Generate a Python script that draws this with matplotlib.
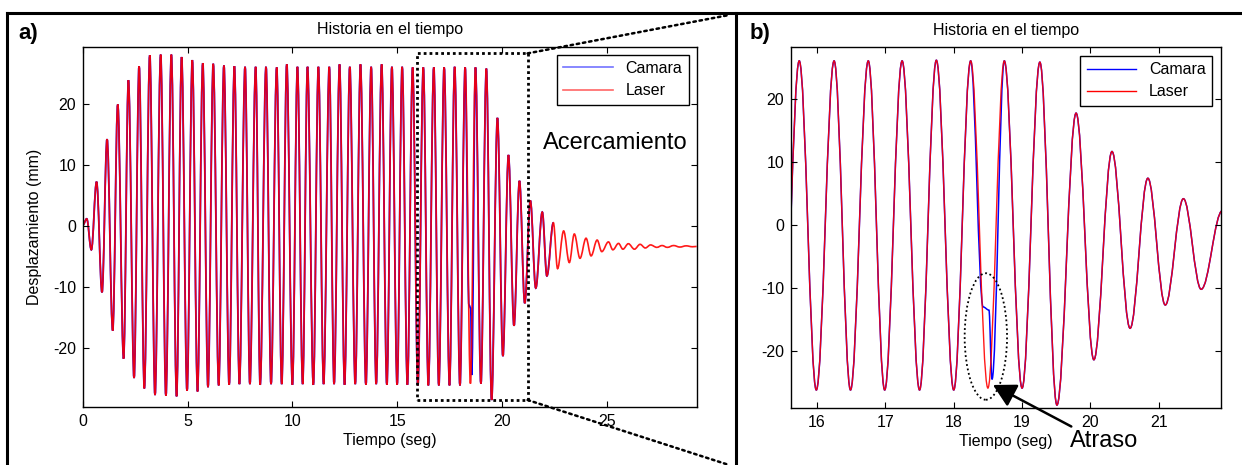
import matplotlib
matplotlib.use('Agg')
import matplotlib.pyplot as plt
from matplotlib.path import Path
from matplotlib.patches import PathPatch, Rectangle, Ellipse, ConnectionPatch
from matplotlib.lines import Line2D

plt.rcParams['font.family'] = ['Liberation Sans', 'DejaVu Sans']
plt.rcParams['axes.unicode_minus'] = False

# Turning points (peaks / troughs) of the laser record, seconds and mm
laser_t = [0.00, 0.18, 0.40, 0.65, 0.91, 1.15, 1.42, 1.66, 1.94, 2.17,
           2.44, 2.68, 2.93, 3.19, 3.44, 3.71, 3.96, 4.22, 4.47, 4.71,
           4.97, 5.22, 5.47, 5.72, 5.97, 6.22, 6.48, 6.73, 6.98, 7.23,
           7.47, 7.74, 7.97, 8.245, 8.46, 8.74, 8.98, 9.25, 9.49, 9.73,
           10.00, 10.24, 10.49, 10.72, 11.00, 11.24, 11.49, 11.76, 11.99, 12.25,
           12.49, 12.74, 13.00, 13.25, 13.51, 13.76, 14.00, 14.26, 14.51, 14.75,
           15.00, 15.24, 15.49, 15.74, 15.99, 16.25, 16.49, 16.75, 16.99, 17.245,
           17.50, 17.746, 18.00, 18.248, 18.50, 18.74, 19.00, 19.26, 19.51, 19.79,
           20.05, 20.315, 20.58, 20.84, 21.095, 21.36, 21.62, 21.93, 22.15, 22.46,
           22.66, 22.95, 23.22, 23.46, 23.73, 24.02, 24.26, 24.55, 24.77, 25.09,
           25.30, 25.57, 25.78, 26.04, 26.33, 26.60, 26.85, 27.10, 27.40, 27.65,
           27.90, 28.20, 28.50, 28.80, 29.10, 29.30]
laser_v = [0.2, 1.2, -3.9, 7.3, -10.9, 14.3, -17.2, 20.0, -21.8, 24.0,
           -25.0, 26.3, -26.7, 28.1, -27.8, 28.2, -27.9, 28.2, -28.0, 27.8,
           -27.1, 27.3, -27.2, 26.8, -26.5, 26.7, -26.2, 26.4, -26.1, 26.3,
           -26.0, 26.2, -26.0, 26.2, -26.1, 26.2, -26.0, 26.1, -26.0, 26.6,
           -26.1, 26.2, -26.0, 26.2, -26.1, 26.2, -26.0, 26.2, -26.0, 26.6,
           -26.1, 26.2, -26.0, 26.6, -26.1, 26.2, -26.0, 26.6, -26.1, 26.2,
           -26.1, 26.2, -26.1, 26.1, -26.2, 26.1, -26.2, 26.1, -26.2, 26.1,
           -26.2, 26.2, -26.2, 26.1, -25.9, 26.1, -25.9, 25.9, -28.6, 17.8,
           -21.4, 11.7, -16.4, 7.45, -12.7, 4.2, -10.2, 2.3, -8.2, 0.55,
           -7.0, -0.8, -6.0, -1.3, -5.3, -2.0, -4.9, -2.3, -4.2, -2.6,
           -3.9, -2.85, -3.8, -2.9, -3.8, -3.0, -3.6, -3.1, -3.5, -3.2,
           -3.5, -3.2, -3.45, -3.25, -3.4, -3.35]

# Camera record: same motion, but it lags near 18.5 s and stops at 22.46 s
camera_t = laser_t[:74] + [18.43, 18.515, 18.56] + laser_t[75:90]
camera_v = laser_v[:74] + [-13.0, -13.5, -24.5] + laser_v[75:90]

series_labels = ['Camara', 'Laser']
xticks_a = [0, 5, 10, 15, 20, 25]
xticks_b = [16, 17, 18, 19, 20, 21]
yticks = [-20, -10, 0, 10, 20]

# zoomed window drawn on panel a
zoom_t = (15.97, 21.23)
zoom_v = (-28.6, 28.4)


def wave_path(t, v):
    # cubic segments with flat tangents at every turning point
    verts = [(t[0], v[0])]
    codes = [Path.MOVETO]
    for t0, v0, t1, v1 in zip(t[:-1], v[:-1], t[1:], v[1:]):
        h = 0.3634 * (t1 - t0)
        verts += [(t0 + h, v0), (t1 - h, v1), (t1, v1)]
        codes += [Path.CURVE4] * 3
    return Path(verts, codes)


def style_axes(ax, xticks):
    ax.set_xticks(xticks)
    ax.set_yticks(yticks)
    ax.tick_params(direction='in', top=True, right=True, length=4,
                   width=0.8, labelsize=11.5, pad=5)
    for sp in ax.spines.values():
        sp.set_linewidth(1.0)
    ax.set_title('Historia en el tiempo', fontsize=11.5, pad=9)
    ax.set_xlabel('Tiempo (seg)', fontsize=11.5, labelpad=3)


fig = plt.figure(figsize=(12.42, 4.65), dpi=100)
ax_a = fig.add_axes([0.0668, 0.1241, 0.4941, 0.7755])
ax_b = fig.add_axes([0.6369, 0.1226, 0.3462, 0.7763])

cam_path = wave_path(camera_t, camera_v)
las_path = wave_path(laser_t, laser_v)

# panel a: whole record
ax_a.add_patch(PathPatch(cam_path, fill=False, edgecolor='#0000ff', lw=1.3))
ax_a.add_patch(PathPatch(las_path, fill=False, edgecolor='#ff0000', lw=1.2, alpha=0.9))
ax_a.set_xlim(0, 29.3)
ax_a.set_ylim(-29.8, 29.5)
style_axes(ax_a, xticks_a)
ax_a.set_ylabel('Desplazamiento (mm)', fontsize=11.5, labelpad=8)

handles_a = [Line2D([], [], color='#0000ff', lw=1.2, alpha=0.55),
             Line2D([], [], color='#ff0000', lw=1.2, alpha=0.6)]
leg = ax_a.legend(handles_a, series_labels, loc='upper right', fancybox=False,
                  edgecolor='k', framealpha=1, fontsize=11.5, handlelength=3.1,
                  borderaxespad=0.5, labelspacing=0.45)
leg.get_frame().set_linewidth(1.0)

ax_a.add_patch(Rectangle((zoom_t[0], zoom_v[0]), zoom_t[1] - zoom_t[0],
                         zoom_v[1] - zoom_v[0], fill=False, edgecolor='k',
                         lw=2.0, ls=(0, (1, 1.1)), zorder=5))
ax_a.text(25.4, 13.6, 'Acercamiento', fontsize=17, ha='center', va='center')

# panel b: close-up
ax_b.add_patch(PathPatch(cam_path, fill=False, edgecolor='#0000ff', lw=1.1))
ax_b.add_patch(PathPatch(las_path, fill=False, edgecolor='#ff0000', lw=1.0, alpha=0.9))
ax_b.set_xlim(15.62, 21.91)
ax_b.set_ylim(-29.06, 28.3)
style_axes(ax_b, xticks_b)

handles_b = [Line2D([], [], color='#0000ff', lw=1.0),
             Line2D([], [], color='#ff0000', lw=1.0)]
leg = ax_b.legend(handles_b, series_labels, loc='upper right', fancybox=False,
                  edgecolor='k', framealpha=1, fontsize=11.5, handlelength=3.1,
                  borderaxespad=0.55, labelspacing=0.45)
leg.get_frame().set_linewidth(1.0)

ax_b.add_patch(Ellipse((18.47, -17.7), 0.62, 20.1, fill=False, edgecolor='k',
                       lw=1.3, ls=(0, (1, 1.5)), zorder=5))
ax_b.annotate('', xy=(18.574, -25.4), xytext=(19.72, -32.0),
              arrowprops=dict(arrowstyle='-|>,head_length=0.55,head_width=0.3',
                              color='k', lw=1.8, mutation_scale=25,
                              shrinkA=0, shrinkB=0),
              annotation_clip=False)
ax_b.text(20.2, -34.3, 'Atraso', fontsize=17, ha='center', va='center')

# zoom guide lines from the window on panel a towards panel b
for yv, fy in [(zoom_v[1], 0.9677), (zoom_v[0], 0.0)]:
    cp = ConnectionPatch(xyA=(zoom_t[1], yv), coordsA=ax_a.transData,
                         xyB=(0.5870, fy), coordsB=fig.transFigure,
                         color='k', lw=1.8, ls=(0, (1, 1.5)))
    fig.add_artist(cp)

# panel frames
frame_kw = dict(color='k', lw=2.2, transform=fig.transFigure)
fig.add_artist(Line2D([0.0058, 0.0058], [0.0, 0.9725], **frame_kw))
fig.add_artist(Line2D([0.0058, 1.0], [0.9725, 0.9725], **frame_kw))
fig.add_artist(Line2D([0.5926, 0.5926], [0.0, 0.9725], **frame_kw))

fig.text(0.0145, 0.927, 'a)', fontsize=16, fontweight='bold', va='center')
fig.text(0.6039, 0.927, 'b)', fontsize=16, fontweight='bold', va='center')

fig.savefig('out.png', dpi=100)
